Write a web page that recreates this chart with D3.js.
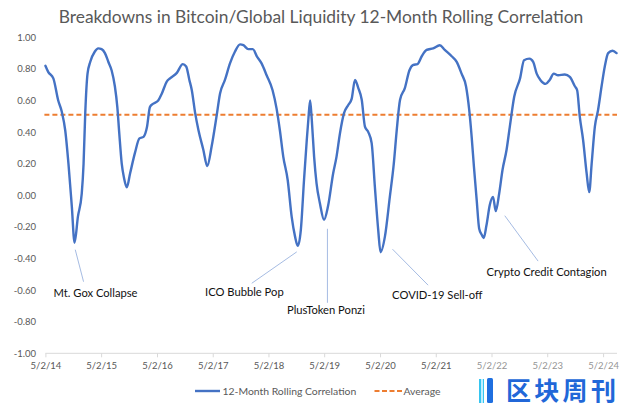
<!DOCTYPE html>
<html><head><meta charset="utf-8">
<script src="https://cdn.jsdelivr.net/npm/d3@7"></script>
<style>
html,body{margin:0;padding:0;background:#fff;}
svg{display:block;font-family:Lato, "Open Sans", sans-serif;}
</style></head>
<body>
<svg id="chart" width="642" height="407"></svg>
<script>
// ---------------- DATA ----------------
const chartTitle = "Breakdowns in Bitcoin/Global Liquidity 12-Month Rolling Correlation";
const dates = [
"2014-05-02","2014-05-21","2014-06-23","2014-07-25","2014-08-17","2014-09-09","2014-09-30","2014-10-22","2014-11-09","2014-12-01",
"2014-12-26","2015-01-07","2015-01-18","2015-02-02","2015-02-20","2015-03-22","2015-04-13","2015-05-05","2015-05-27","2015-06-18",
"2015-07-10","2015-07-31","2015-08-16","2015-08-29","2015-09-14","2015-09-29","2015-10-17","2015-11-08","2015-12-10","2016-01-08",
"2016-02-04","2016-02-26","2016-03-17","2016-04-08","2016-05-10","2016-06-03","2016-07-05","2016-07-26","2016-09-09","2016-10-18",
"2016-11-09","2016-11-30","2016-12-16","2017-01-07","2017-01-29","2017-03-01","2017-03-27","2017-04-25","2017-05-27","2017-06-19",
"2017-07-21","2017-08-23","2017-09-25","2017-10-28","2017-11-19","2017-12-21","2018-01-20","2018-02-15","2018-03-18","2018-04-20",
"2018-05-29","2018-06-24","2018-07-16","2018-08-07","2018-09-05","2018-10-01","2018-10-23","2018-11-10","2018-11-30","2018-12-21",
"2019-01-08","2019-01-18","2019-01-30","2019-02-10","2019-02-25","2019-03-13","2019-04-04","2019-05-01","2019-05-27","2019-06-30",
"2019-07-22","2019-08-13","2019-09-09","2019-10-06","2019-10-29","2019-11-20","2019-12-11","2020-01-03","2020-01-24","2020-02-15",
"2020-03-08","2020-03-29","2020-04-20","2020-05-05","2020-06-03","2020-07-05","2020-07-31","2020-08-19","2020-09-10","2020-10-12",
"2020-11-10","2020-12-06","2021-01-02","2021-01-30","2021-03-03","2021-04-15","2021-05-28","2021-06-30","2021-08-14","2021-09-16",
"2021-10-18","2021-11-16","2021-12-07","2021-12-23","2022-01-07","2022-01-25","2022-02-10","2022-02-27","2022-03-12","2022-03-30",
"2022-04-21","2022-05-12","2022-05-30","2022-06-21","2022-07-13","2022-08-09","2022-08-30","2022-09-28","2022-11-05","2022-12-01",
"2023-01-05","2023-01-30","2023-02-22","2023-03-18","2023-04-22","2023-05-18","2023-06-14","2023-07-12","2023-08-25","2023-09-27",
"2023-10-30","2023-11-14","2023-12-01","2023-12-23","2024-01-15","2024-02-01","2024-02-17","2024-03-09","2024-03-30","2024-04-22",
"2024-05-13","2024-06-04","2024-07-03","2024-07-29"
];
const correlation = [
0.82,0.78,0.74,0.60,0.53,0.41,0.20,-0.07,-0.30,-0.135,
0.01,0.20,0.52,0.77,0.845,0.91,0.93,0.925,0.90,0.845,
0.79,0.69,0.56,0.39,0.20,0.11,0.05,0.14,0.27,0.36,
0.37,0.43,0.56,0.58,0.60,0.645,0.72,0.74,0.775,0.83,
0.815,0.73,0.665,0.52,0.41,0.29,0.185,0.31,0.50,0.645,
0.73,0.835,0.91,0.955,0.95,0.925,0.925,0.88,0.835,0.76,
0.665,0.55,0.41,0.245,0.097,-0.135,-0.26,-0.32,-0.22,0.097,
0.35,0.475,0.60,0.475,0.245,0.075,-0.05,-0.155,-0.07,0.14,
0.245,0.39,0.52,0.57,0.61,0.73,0.68,0.605,0.435,0.40,
0.33,0.055,-0.22,-0.36,-0.26,-0.01,0.20,0.41,0.605,0.68,
0.79,0.825,0.83,0.88,0.92,0.93,0.95,0.92,0.88,0.845,
0.77,0.69,0.54,0.37,0.18,-0.03,-0.21,-0.25,-0.27,-0.19,
-0.06,-0.01,-0.10,0.01,0.16,0.29,0.435,0.625,0.74,0.855,
0.865,0.845,0.77,0.73,0.705,0.73,0.77,0.76,0.765,0.75,
0.69,0.665,0.50,0.35,0.14,0.02,0.20,0.435,0.54,0.69,
0.815,0.90,0.915,0.90
];
const averageValue = 0.51;
const xStart = "2014-05-02", xEnd = "2024-08-01";
const xTickDates = ["2014-05-02","2015-05-02","2016-05-02","2017-05-02","2018-05-02","2019-05-02","2020-05-02","2021-05-02","2022-05-02","2023-05-02","2024-05-02"];
const yTicks = [-1,-0.8,-0.6,-0.4,-0.2,0,0.2,0.4,0.6,0.8,1];
const seriesNames = ["12-Month Rolling Correlation","Average"];
const annotationLabels = ["Mt. Gox Collapse","ICO Bubble Pop","PlusToken Ponzi","COVID-19 Sell-off","Crypto Credit Contagion"];
const annotationDates  = ["2014-11-09","2018-11-10","2019-05-01","2020-05-05","2022-05-30"];
const annotationValues = [-0.30,-0.32,-0.155,-0.36,-0.10];
const watermarkText = "区块周刊";

// ---------------- LAYOUT ----------------
const parse = d3.timeParse("%Y-%m-%d");
const data = dates.map((d,i)=>({date:parse(d), value:correlation[i]}));
const svg = d3.select("#chart");
const x = d3.scaleTime().domain([parse(xStart), parse(xEnd)]).range([45.4, 617]);
const y = d3.scaleLinear().domain([-1,1]).range([353.3, 37.3]);
const blue = "#4472c4", orange = "#ed7d31", gray = "#595959";

// title
svg.append("text").attr("x", 321).attr("y", 23).attr("text-anchor","middle")
  .attr("fill","#595959").style("font-size","17.4px").text(chartTitle);

// y axis labels (no line)
const yAxis = d3.axisLeft(y).tickValues(yTicks).tickSize(0).tickPadding(0)
  .tickFormat(d => (Math.abs(d)<1e-9?0:d).toFixed(2));
const gy = svg.append("g").attr("transform","translate(36,0)").call(yAxis);
gy.select(".domain").remove();
gy.selectAll("text").attr("fill",gray).style("font-size","9.5px").style("font-family","Lato, sans-serif");

// x axis
const fmt = d => `${d.getMonth()+1}/${d.getDate()}/${String(d.getFullYear()).slice(2)}`;
const xAxis = d3.axisBottom(x).tickValues(xTickDates.map(parse)).tickSize(4).tickPadding(5).tickFormat(fmt);
const gx = svg.append("g").attr("transform",`translate(0,${y(-1)})`).call(xAxis);
gx.select(".domain").attr("stroke","#d9d9d9").attr("d",`M${x.range()[0]},0H${x.range()[1]}`);
gx.selectAll(".tick line").attr("stroke","#d9d9d9");
gx.selectAll("text").attr("fill",gray).style("font-size","9.5px").style("font-family","Lato, sans-serif");

// average line
svg.append("line").attr("x1", x.range()[0]-1).attr("x2", x.range()[1])
  .attr("y1", y(averageValue)).attr("y2", y(averageValue))
  .attr("stroke", orange).attr("stroke-width",2).attr("stroke-dasharray","5,3");

// correlation line
const line = d3.line().x(d=>x(d.date)).y(d=>y(d.value)).curve(d3.curveMonotoneX);
svg.append("path").datum(data).attr("d", line).attr("fill","none")
  .attr("stroke", blue).attr("stroke-width",2.4).attr("stroke-linejoin","round").attr("stroke-linecap","round");

// annotations: [line start offset, line end offset, text offset] relative to anchor point
const annOffsets = [
  {l:[0.7,7, 9,39],  t:[-21,54]},
  {l:[-1,6, -46,37.4], t:[-92.7,50.6]},
  {l:[3.4,9, 3.4,83], t:[-37,94]},
  {l:[12,-3, 47.6,33], t:[11.6,47.3]},
  {l:[9,4.6, 42.3,50], t:[-9.3,65]}
];
annotationLabels.forEach((lab,i)=>{
  const ax = x(parse(annotationDates[i])), ay = y(annotationValues[i]);
  const o = annOffsets[i];
  svg.append("line").attr("x1",ax+o.l[0]).attr("y1",ay+o.l[1]).attr("x2",ax+o.l[2]).attr("y2",ay+o.l[3])
    .attr("stroke","#8eaadb").attr("stroke-width",0.8);
  svg.append("text").attr("x",ax+o.t[0]).attr("y",ay+o.t[1]).attr("fill","#111")
    .style("font-size","11.2px").text(lab);
});

// legend
const lg = svg.append("g");
lg.append("line").attr("x1",195).attr("x2",220).attr("y1",391).attr("y2",391).attr("stroke",blue).attr("stroke-width",2.4);
lg.append("text").attr("x",222.5).attr("y",394.5).attr("fill",gray).style("font-size","10.4px").text(seriesNames[0]);
lg.append("line").attr("x1",374.5).attr("x2",402).attr("y1",391).attr("y2",391).attr("stroke",orange).attr("stroke-width",2).attr("stroke-dasharray","5,2.5");
lg.append("text").attr("x",403.5).attr("y",394.5).attr("fill",gray).style("font-size","10.4px").text(seriesNames[1]);

// watermark
const wm = svg.append("g");
wm.append("rect").attr("x",463).attr("y",357).attr("width",179).attr("height",50).attr("fill","#fff").attr("opacity",0.35);
wm.append("rect").attr("x",479).attr("y",379).attr("width",5).attr("height",24).attr("fill","#36c5f0");
wm.append("rect").attr("x",481).attr("y",379).attr("width",2).attr("height",24).attr("fill","#bfefff");
wm.append("rect").attr("x",487).attr("y",378).attr("width",6).attr("height",25).attr("rx",1.5).attr("fill","#1f6fe0");
wm.append("text").attr("x",506).attr("y",399.5).attr("fill","#2167d8")
  .style("font-family",'"Noto Sans CJK SC", sans-serif').style("font-size","25px").style("font-weight","700")
  .style("letter-spacing","3.3px")
  .text(watermarkText);
</script>
</body></html>
